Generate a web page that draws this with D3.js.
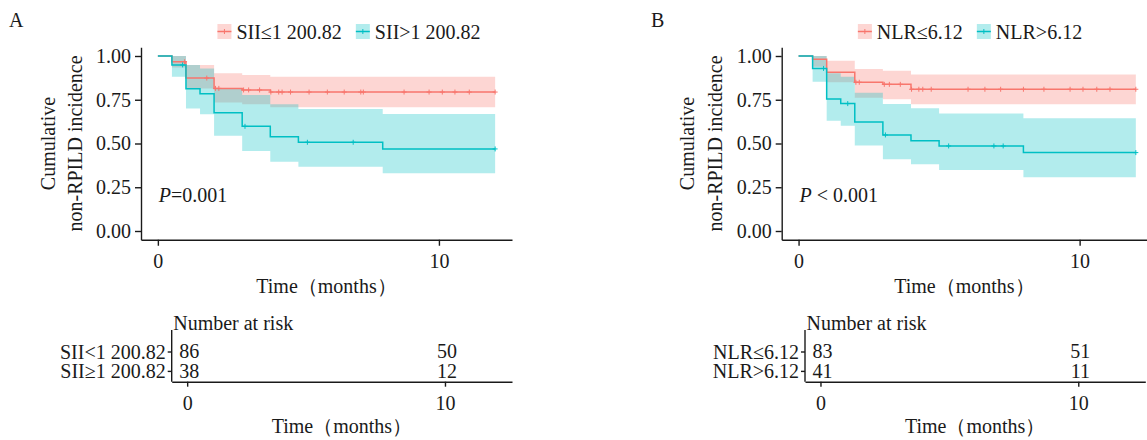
<!DOCTYPE html>
<html>
<head>
<meta charset="utf-8">
<style>
  body { margin: 0; background: #fff; }
  svg text { font-family: "Liberation Serif", "Times New Roman", serif; fill: #1a1a1a; }
  .axis path, .axis line { stroke: #1a1a1a; stroke-width: 1.4px; }
  .axis text { font-size: 20px; fill: #1a1a1a; }
  .ttl { font-feature-settings: "halt" 1; }
</style>
</head>
<body>
<svg id="chart" width="1147" height="440"></svg>
<script src="https://d3js.org/d3.v7.min.js"></script>
<script>

// ---- data ----
// panel A : SII
var siiLabels = ["SII\u22641 200.82", "SII>1 200.82"];
var siiRiskLabels = ["SII<1 200.82", "SII\u22651 200.82"];

var siiLowTimes = [0, 0.5, 1, 2, 3, 4, 12];
var siiLowSurv  = [1, 0.967, 0.874, 0.815, 0.806, 0.794, 0.794];
var siiLowUpper = [1, 1, 0.949, 0.901, 0.891, 0.882, 0.882];
var siiLowLower = [1, 0.935, 0.815, 0.735, 0.724, 0.707, 0.707];
var siiLowCens  = [0.95, 1.74, 2.05, 2.17, 3.05, 3.23, 3.62, 4.02, 4.3, 4.42, 4.72, 5.38,
                   6.03, 6.63, 7.22, 7.31, 8.76, 9.65, 10.12, 10.57, 11.08, 12];

var siiHighTimes = [0, 0.5, 1, 1.5, 2, 3, 4, 5, 8, 12];
var siiHighSurv  = [1, 0.949, 0.813, 0.785, 0.676, 0.598, 0.539, 0.507, 0.469, 0.469];
var siiHighUpper = [1, 1, 0.949, 0.929, 0.815, 0.777, 0.724, 0.697, 0.669, 0.669];
var siiHighLower = [1, 0.882, 0.70, 0.667, 0.545, 0.457, 0.396, 0.367, 0.33, 0.33];
var siiHighCens  = [0.88, 3.1, 5.32, 6.95, 12];

var siiRisk = [[86, 50], [38, 12]];

// panel B : NLR
var nlrLabels = ["NLR\u22646.12", "NLR>6.12"];
var nlrRiskLabels = ["NLR\u22646.12", "NLR>6.12"];

var nlrLowTimes = [0, 0.5, 1, 2, 3, 4, 12];
var nlrLowSurv  = [1, 0.981, 0.907, 0.85, 0.838, 0.81, 0.81];
var nlrLowUpper = [1, 1, 0.973, 0.926, 0.916, 0.895, 0.895];
var nlrLowLower = [1, 0.939, 0.85, 0.762, 0.753, 0.724, 0.724];
var nlrLowCens  = [2.04, 2.16, 3.05, 3.23, 3.62, 4.02, 4.28, 4.42, 4.72, 6.03, 6.63, 7.19,
                   8.0, 8.73, 9.66, 10.12, 10.61, 11.08, 12];

var nlrHighTimes = [0, 0.5, 1, 1.5, 2, 3, 4, 5, 8, 12];
var nlrHighSurv  = [1, 0.929, 0.754, 0.728, 0.623, 0.549, 0.516, 0.486, 0.448, 0.448];
var nlrHighUpper = [1, 1, 0.901, 0.882, 0.79, 0.726, 0.701, 0.672, 0.644, 0.644];
var nlrHighLower = [1, 0.853, 0.63, 0.602, 0.488, 0.41, 0.381, 0.349, 0.307, 0.307];
var nlrHighCens  = [0.89, 1.75, 3.09, 5.34, 6.95, 7.28, 12];

var nlrRisk = [[83, 51], [41, 11]];

var yTicks = [0, 0.25, 0.5, 0.75, 1];
var xTicks = [0, 10];
var riskTimes = [0, 10];
var colors = ["#F8766D", "#00BFC4"];
var xTitle = "Time\uff08months\uff09";

// build curve objects
function curve(times, surv, upper, lower, cens) {
  return {
    pts: times.map(function(t, i) { return {t: t, s: surv[i], hi: upper[i], lo: lower[i]}; }),
    cens: cens.map(function(t) {
      var i = d3.bisectRight(times, t) - 1;
      return {t: t, s: surv[Math.max(0, i)]};
    })
  };
}

var panels = [
  {
    letter: "A", letterX: 9,
    curves: [curve(siiLowTimes, siiLowSurv, siiLowUpper, siiLowLower, siiLowCens),
             curve(siiHighTimes, siiHighSurv, siiHighUpper, siiHighLower, siiHighCens)],
    legend: siiLabels, legendCenter: 349,
    pText: [{t: "P", i: true}, {t: "=0.001"}],
    risk: siiRisk, riskLabels: siiRiskLabels,
    plotL: 141, plotR: 512, titleX1: 55, titleX2: 82,
    riskL: 171.7, riskR: 512
  },
  {
    letter: "B", letterX: 651,
    curves: [curve(nlrLowTimes, nlrLowSurv, nlrLowUpper, nlrLowLower, nlrLowCens),
             curve(nlrHighTimes, nlrHighSurv, nlrHighUpper, nlrHighLower, nlrHighCens)],
    legend: nlrLabels, legendCenter: 970,
    pText: [{t: "P", i: true}, {t: " < 0.001"}],
    risk: nlrRisk, riskLabels: nlrRiskLabels,
    plotL: 781.7, plotR: 1152.7, titleX1: 694, titleX2: 721.5,
    riskL: 805, riskR: 1145.3
  }
];

var svg = d3.select("#chart");
var plotTop = 47.25, plotBottom = 239.75;
var riskTop = 330, riskBottom = 381.7;

function plusPath(size) {
  return "M" + (-size) + ",0H" + size + "M0," + (-size) + "V" + size;
}

panels.forEach(function(p) {
  var g = svg.append("g");

  var x = d3.scaleLinear().domain([-0.6, 12.6]).range([p.plotL, p.plotR]);
  var y = d3.scaleLinear().domain([-0.05, 1.05]).range([plotBottom, plotTop]);

  // panel letter
  g.append("text").attr("x", p.letterX).attr("y", 27)
    .style("font-size", "20px").text(p.letter);

  // bands
  var area = d3.area().curve(d3.curveStepAfter)
    .x(function(d) { return x(d.t); })
    .y0(function(d) { return y(d.lo); })
    .y1(function(d) { return y(d.hi); });
  var line = d3.line().curve(d3.curveStepAfter)
    .x(function(d) { return x(d.t); })
    .y(function(d) { return y(d.s); });

  p.curves.forEach(function(c, k) {
    g.append("path").datum(c.pts).attr("d", area)
      .attr("fill", colors[k]).attr("fill-opacity", 0.3);
  });
  p.curves.forEach(function(c, k) {
    g.append("path").datum(c.pts).attr("d", line)
      .attr("fill", "none").attr("stroke", colors[k]).attr("stroke-width", 1.5);
    g.selectAll(null).data(c.cens).enter().append("path")
      .attr("transform", function(d) { return "translate(" + x(d.t) + "," + y(d.s) + ")"; })
      .attr("d", plusPath(2.5))
      .attr("stroke", colors[k]).attr("stroke-width", 1);
  });

  // axes
  g.append("g").attr("class", "axis")
    .attr("transform", "translate(" + p.plotL + ",0)")
    .call(d3.axisLeft(y).tickValues(yTicks).tickFormat(d3.format(".2f"))
      .tickSize(6).tickSizeOuter(0).tickPadding(4));
  g.append("g").attr("class", "axis")
    .attr("transform", "translate(0," + plotBottom + ")")
    .call(d3.axisBottom(x).tickValues(xTicks).tickFormat(d3.format("d"))
      .tickSize(6).tickSizeOuter(0).tickPadding(8));

  // y title (two lines)
  var yMid = (plotTop + plotBottom) / 2;
  [["Cumulative", p.titleX1], ["non-RPILD incidence", p.titleX2]].forEach(function(l) {
    g.append("text")
      .attr("transform", "translate(" + l[1] + "," + yMid + ") rotate(-90)")
      .attr("text-anchor", "middle").style("font-size", "20px").text(l[0]);
  });

  // x title
  g.append("text").attr("class", "ttl")
    .attr("x", (p.plotL + Math.min(p.plotR, 1147)) / 2).attr("y", 293)
    .attr("text-anchor", "middle").style("font-size", "20px").text(xTitle);

  // P value
  var pt = g.append("text").attr("x", x(0) + 1).attr("y", 202).style("font-size", "20px");
  p.pText.forEach(function(s) {
    pt.append("tspan").style("font-style", s.i ? "italic" : "normal").text(s.t);
  });

  // legend
  var lg = g.append("g");
  var cx = 0;
  p.legend.forEach(function(lab, k) {
    var item = lg.append("g").attr("transform", "translate(" + cx + ",0)");
    item.append("rect").attr("x", 0).attr("y", 24).attr("width", 14).attr("height", 15)
      .attr("fill", colors[k]).attr("fill-opacity", 0.3);
    item.append("line").attr("x1", 0).attr("x2", 14).attr("y1", 31.5).attr("y2", 31.5)
      .attr("stroke", colors[k]).attr("stroke-width", 1.5);
    item.append("path").attr("transform", "translate(7,31.5)").attr("d", plusPath(2.5))
      .attr("stroke", colors[k]).attr("stroke-width", 1);
    var t = item.append("text").attr("x", 19).attr("y", 39).style("font-size", "20px").text(lab);
    cx += 19 + t.node().getComputedTextLength() + 14;
  });
  var lw = cx - 14;
  lg.attr("transform", "translate(" + (p.legendCenter - lw / 2) + ",0)");

  // ---- risk table ----
  var rx = d3.scaleLinear().domain([-0.6, 12.6]).range([p.riskL, p.riskR]);
  var ry = d3.scalePoint().domain(p.riskLabels).range([351.5, 370.9]);

  g.append("text").attr("x", p.riskL + 1.5).attr("y", 329.5)
    .style("font-size", "20px").text("Number at risk");

  var ra = g.append("g").attr("class", "axis")
    .attr("transform", "translate(" + p.riskL + ",0)")
    .call(d3.axisLeft(ry).tickSize(4).tickPadding(2));
  ra.select(".domain").attr("d", "M0," + riskTop + "V" + riskBottom);
  ra.selectAll(".tick text").attr("dy", "0.33em");

  g.append("g").attr("class", "axis")
    .attr("transform", "translate(0," + riskBottom + ")")
    .call(d3.axisBottom(rx).tickValues(xTicks).tickFormat(d3.format("d"))
      .tickSize(5).tickSizeOuter(0).tickPadding(9));

  p.riskLabels.forEach(function(lab, r) {
    g.selectAll(null).data(riskTimes).enter().append("text")
      .attr("x", function(d) { return rx(d) + 2; })
      .attr("y", ry(lab)).attr("dy", "0.33em")
      .attr("text-anchor", "middle").style("font-size", "20px")
      .text(function(d, i) { return p.risk[r][i]; });
  });

  g.append("text").attr("class", "ttl")
    .attr("x", (p.riskL + p.riskR) / 2).attr("y", 433)
    .attr("text-anchor", "middle").style("font-size", "20px").text(xTitle);
});

</script>
</body>
</html>
